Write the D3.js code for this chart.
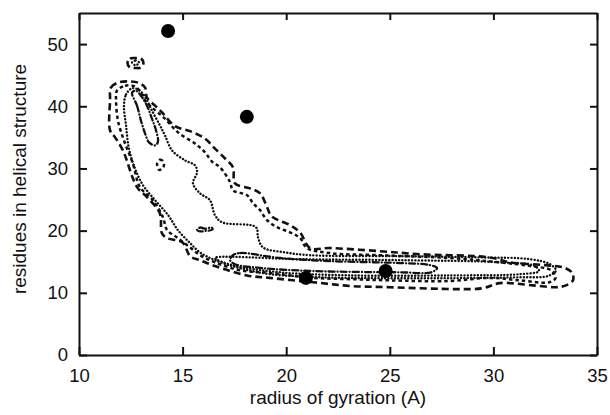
<!DOCTYPE html>
<html>
<head>
<meta charset="utf-8">
<script src="https://cdn.jsdelivr.net/npm/d3@7"></script>
<style>
body { margin: 0; background: #fff; }
text { font-family: "Liberation Sans", Arial, sans-serif; fill: #111; }
</style>
</head>
<body>
<svg id="chart" width="610" height="415"></svg>
<script>
// tick labels
const xTicks = [10, 15, 20, 25, 30, 35];
const yTicks = [0, 10, 20, 30, 40, 50];

// the four structures (radius of gyration, helical residues)
const rgValues = [14.3, 18.1, 20.95, 24.8];
const helixValues = [52.1, 38.3, 12.4, 13.5];

// contour lines, [rg, residues]
const outerContour = [[11.50,40.9],[11.54,43.0],[11.88,43.8],[12.36,44.0],[12.85,43.8],[13.19,43.0],[13.28,41.4],
  [13.67,40.1],[14.01,39.0],[14.63,36.8],[15.36,36.0],[16.08,34.8],[16.56,33.2],[17.05,31.6],[17.43,30.2],
  [17.53,27.6],[18.25,26.8],[18.74,26.0],[19.05,24.0],[19.3,22.3],[20.18,20.9],[20.67,19.7],[21.15,17.2],
  [22.1,17.2],[24.5,16.7],[26.5,16.2],[29.8,15.7],[30.8,14.9],[32.5,14.45],[33.46,14.0],[33.8,13.2],
  [33.84,12.0],[33.5,11.2],[33.0,10.9],[31.9,11.2],[30.3,11.56],[29.5,10.75],[28.24,10.6],[25.0,10.9],
  [23.1,11.1],[21.3,11.7],[19.2,12.4],[18.1,12.8],[16.56,14.3],[15.84,15.25],[15.36,15.9],[15.0,18.1],
  [14.25,18.8],[14.0,19.6],[13.9,22.8],[13.28,25.4],[12.8,27.0],[12.12,32.9],[11.74,35.0],[11.5,36.1]];

const secondContour = [[11.83,42.5],[12.22,43.3],[12.7,43.2],[12.99,42.2],[13.19,40.9],[13.52,39.8],[14.15,38.0],
  [14.78,35.8],[15.6,34.0],[16.08,32.6],[16.42,31.1],[16.8,30.2],[17.29,27.8],[17.43,26.5],[18.11,25.7],
  [18.4,24.4],[18.74,23.3],[19.07,21.7],[19.56,20.55],[20.18,19.74],[20.67,18.8],[21.0,17.2],[22.1,16.4],
  [24.5,16.05],[27.9,15.6],[30.3,14.9],[31.8,14.3],[32.8,13.6],[33.0,12.4],[32.7,11.7],[31.3,12.0],
  [29.8,12.4],[27.9,11.9],[25.0,12.0],[23.1,12.2],[21.3,12.4],[19.2,13.2],[17.8,13.6],[16.56,14.9],
  [15.84,16.05],[15.36,17.3],[14.73,18.9],[14.25,20.1],[14.05,22.15],[13.57,24.9],[12.94,27.0],
  [12.6,30.8],[12.17,34.5],[11.88,37.7],[11.79,40.9]];

const dottedContour = [[12.17,40.1],[12.27,41.9],[12.56,42.9],[12.94,42.5],[13.23,41.25],[13.52,39.3],[13.91,36.9],
  [14.15,35.3],[14.49,32.9],[15.12,31.3],[15.6,30.5],[15.7,29.4],[15.5,27.6],[15.84,26.0],[16.32,24.9],
  [16.56,22.5],[16.9,21.35],[18.54,20.55],[18.64,18.9],[18.88,17.3],[19.94,16.5],[21.15,16.05],[25.5,15.9],
  [29.35,15.7],[31.77,15.4],[32.73,14.6],[33.02,13.6],[32.63,12.7],[31.28,12.5],[27.9,12.36],[24.53,12.36],
  [21.63,12.5],[19.22,13.0],[17.77,13.96],[16.56,15.25],[15.84,16.5],[15.36,18.0],[14.78,20.06],
  [14.3,22.5],[13.67,24.9],[13.09,27.3],[12.7,30.0],[12.41,33.2],[12.27,36.9]];

const tailDotted = [[16.56,15.6],[20.67,15.4],[25.5,15.25],[30.3,14.9],[32.0,14.3],[32.2,13.5],[31.3,13.0],
  [27.9,12.8],[23.1,12.8],[19.7,13.3],[17.4,14.45]];

const innerLoopTop = [[12.56,42.2],[12.8,40.1],[12.99,37.7],[13.19,35.6],[13.38,34.2],[13.67,33.7],[13.81,34.3],
  [13.72,36.1],[13.52,38.0],[13.28,40.1],[12.99,41.7],[12.75,42.5]];

const innerLoopTail = [[17.43,16.05],[17.77,16.4],[19.7,15.6],[22.1,15.1],[25.35,14.8],[26.94,14.45],[27.28,13.96],
  [27.0,13.3],[25.5,13.3],[21.3,13.5],[18.9,13.96],[17.53,14.6],[17.29,15.25]];

// small islands
const islandTop = [[12.34,46.95],[12.46,47.67],[12.73,47.75],[12.99,47.67],[13.11,46.95],[12.99,46.23],[12.73,46.15],[12.46,46.23]];
const islandTopInner = [[12.56,47.03],[12.73,47.35],[12.9,47.03],[12.73,46.6]];
const islandMid = [[13.77,30.8],[13.9,31.4],[14.05,31.2],[14.1,30.5],[14.0,29.9],[13.85,29.8]];
const islandLow = [[15.7,20.1],[15.85,20.5],[16.1,20.3],[16.4,20.5],[16.45,20.2],[16.1,19.95],[15.8,19.9]];

const width = 610, height = 415;
const margin = {top: 13, right: 13, bottom: 60, left: 79};

const svg = d3.select('#chart');

const x = d3.scaleLinear().domain([10, 35]).range([margin.left, width - margin.right]);
const y = d3.scaleLinear().domain([0, 55]).range([height - margin.bottom, margin.top]);

const line = d3.line()
    .x(d => x(d[0]))
    .y(d => y(d[1]))
    .curve(d3.curveCatmullRomClosed.alpha(0.5));

const styles = {
    outer: {dash: '7,4', w: 2.6, cap: 'butt'},
    second: {dash: '3.5,3', w: 2.5, cap: 'butt'},
    dotted: {dash: '0.1,3.2', w: 2.4, cap: 'round'},
    dashdot: {dash: '6,3,0.1,3', w: 2.3, cap: 'round'}
};

const contours = [
    {pts: outerContour, s: 'outer'},
    {pts: secondContour, s: 'second'},
    {pts: dottedContour, s: 'dotted'},
    {pts: tailDotted, s: 'dotted'},
    {pts: innerLoopTop, s: 'dashdot'},
    {pts: innerLoopTail, s: 'dashdot'},
    {pts: islandTop, s: 'outer'},
    {pts: islandTopInner, s: 'dotted'},
    {pts: islandMid, s: 'second'},
    {pts: islandLow, s: 'dashdot'}
];

svg.append('g').selectAll('path')
    .data(contours)
    .enter().append('path')
    .attr('d', d => line(d.pts))
    .attr('fill', 'none')
    .attr('stroke', '#111')
    .attr('stroke-width', d => styles[d.s].w)
    .attr('stroke-dasharray', d => styles[d.s].dash)
    .attr('stroke-linecap', d => styles[d.s].cap);

// the four structures
svg.append('g').selectAll('circle')
    .data(rgValues.map((r, i) => [r, helixValues[i]]))
    .enter().append('circle')
    .attr('cx', d => x(d[0]))
    .attr('cy', d => y(d[1]))
    .attr('r', 7)
    .attr('fill', '#000');

// axes, ticks pointing in
const axisB = svg.append('g')
    .attr('transform', `translate(0,${height - margin.bottom})`)
    .call(d3.axisBottom(x).tickValues(xTicks).tickSize(-8).tickSizeOuter(0).tickPadding(14));
const axisL = svg.append('g')
    .attr('transform', `translate(${margin.left},0)`)
    .call(d3.axisLeft(y).tickValues(yTicks).tickSize(-8).tickSizeOuter(0).tickPadding(11));
const axisT = svg.append('g')
    .attr('transform', `translate(0,${margin.top})`)
    .call(d3.axisTop(x).tickValues(xTicks).tickSize(-7).tickSizeOuter(0).tickFormat(''));
const axisR = svg.append('g')
    .attr('transform', `translate(${width - margin.right},0)`)
    .call(d3.axisRight(y).tickValues(yTicks).tickSize(-7).tickSizeOuter(0).tickFormat(''));

[axisB, axisL, axisT, axisR].forEach(g => {
    g.select('.domain').attr('stroke', '#111').attr('stroke-width', 2);
    g.selectAll('.tick line').attr('stroke', '#111').attr('stroke-width', 2);
    g.selectAll('.tick text').attr('font-size', 18.5).attr('fill', '#111')
        .style('font-family', '"Liberation Sans", Arial, sans-serif');
});

svg.append('text')
    .attr('x', (margin.left + width - margin.right) / 2)
    .attr('y', 404)
    .attr('text-anchor', 'middle')
    .attr('font-size', 19)
    .text('radius of gyration (A)');

svg.append('text')
    .attr('transform', `translate(26,179) rotate(-90)`)
    .attr('text-anchor', 'middle')
    .attr('font-size', 19)
    .text('residues in helical structure');
</script>
</body>
</html>
